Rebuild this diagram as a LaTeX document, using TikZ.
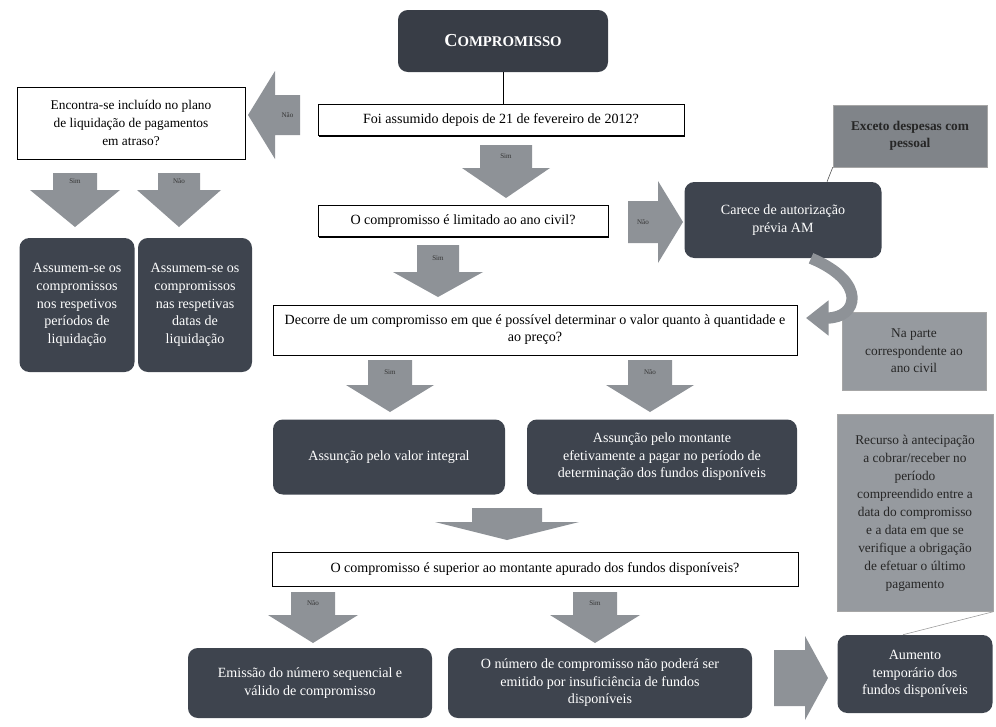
\documentclass[tikz,border=0pt]{standalone}
\usepackage{fontspec}
\setmainfont{Liberation Serif}
\usetikzlibrary{shadows,arrows.meta}

\definecolor{caixaescura}{RGB}{62,68,78}
\definecolor{setacinza}{RGB}{142,146,151}
\definecolor{notaescura}{RGB}{128,132,137}
\definecolor{notaclara}{RGB}{150,154,159}

\tikzset{
  sz/.style 2 args={minimum width=#1*0.025cm, minimum height=#2*0.025cm},
  pergunta/.style={draw=black, line width=0.6pt, fill=white, inner sep=2pt, align=center,
    drop shadow={fill=black, opacity=1, shadow xshift=0.9pt, shadow yshift=-0.9pt},
    font=\fontsize{10}{12}\selectfont},
  escura/.style={fill=caixaescura, rounded corners=7pt, text=white, align=center, inner sep=2pt,
    font=\fontsize{10}{12.5}\selectfont},
  nota/.style={fill=notaclara, draw=black!35, line width=0.3pt, text=black!85, align=center,
    inner sep=2pt, font=\fontsize{9.5}{12.5}\selectfont},
  rotulo/.style={font=\fontsize{5}{6}\selectfont, text=black!80, inner sep=0pt},
}

% seta larga para baixo: nome, x, topo, base da ponta, ponta, meia haste, meia ponta, rotulo
\newcommand{\setabaixo}[8]{%
  \fill[setacinza] (#2-#6,#3) -- (#2+#6,#3) -- (#2+#6,#4) -- (#2+#7,#4) -- (#2,#5)
    -- (#2-#7,#4) -- (#2-#6,#4) -- cycle;
  \node[rotulo] (#1) at (#2,{(#3+#4)/2}) {#8};
}
% seta larga na horizontal: nome, y, cauda, base da ponta, ponta, meia haste, meia ponta, rotulo
\newcommand{\setalado}[8]{%
  \fill[setacinza] (#3,#2-#6) -- (#4,#2-#6) -- (#4,#2-#7) -- (#5,#2) -- (#4,#2+#7)
    -- (#4,#2+#6) -- (#3,#2+#6) -- cycle;
  \node[rotulo] (#1) at ({(#3+#4)/2},#2) {#8};
}

\begin{document}
\begin{tikzpicture}[x=0.025cm,y=-0.025cm]
\useasboundingbox (0,0) rectangle (996,726);

% caixas principais
\node[escura, sz={210}{62}, fill=caixaescura!90!black] (comp) at (503,41)
  {\bfseries{\fontsize{13}{15}\selectfont C}{\fontsize{10.5}{12}\selectfont OMPROMISSO}};
\node[pergunta, sz={366}{31}] (q1) at (501,120) {Foi assumido depois de 21 de fevereiro de 2012?};
\node[pergunta, sz={228}{72}, font=\fontsize{9.5}{12.5}\selectfont] (l1) at (131,123)
  {Encontra-se incluído no plano\\ de liquidação de pagamentos\\ em atraso?};
\node[escura, sz={115}{134}] (b1) at (77,305)
  {Assumem-se os\\ compromissos\\ nos respetivos\\ períodos de\\ liquidação};
\node[escura, sz={114}{134}] (b2) at (195,305)
  {Assumem-se os\\ compromissos\\ nas respetivas\\ datas de\\ liquidação};
\node[pergunta, sz={290}{31}] (q2) at (463,221) {O compromisso é limitado ao ano civil?};
\node[escura, sz={197}{76}] (carece) at (783,220) {Carece de autorização\\ prévia AM};
\node[nota, sz={154}{62}, fill=notaescura, font=\bfseries\fontsize{9.5}{12}\selectfont] (exc) at (910,136)
  {Exceto despesas com\\ pessoal};
\node[pergunta, sz={524}{50}] (q3) at (535,330)
  {Decorre de um compromisso em que é possível determinar o valor quanto à quantidade e\\ ao preço?};
\node[nota, sz={144}{78}] (napa) at (914,351) {Na parte\\ correspondente ao\\ ano civil};
\node[escura, sz={232}{75}] (a1) at (389,457) {Assunção pelo valor integral};
\node[escura, sz={270}{75}] (a2) at (662,457)
  {Assunção pelo montante\\ efetivamente a pagar no período de\\ determinação dos fundos disponíveis};
\node[pergunta, sz={526}{34}] (q4) at (535,569)
  {O compromisso é superior ao montante apurado dos fundos disponíveis?};
\node[nota, sz={156}{197}, font=\fontsize{9.5}{12.8}\selectfont] (rec) at (915,513)
  {Recurso à antecipação\\ a cobrar/receber no\\ período\\ compreendido entre a\\ data do compromisso\\ e a data em que se\\ verifique a obrigação\\ de efetuar o último\\ pagamento};
\node[escura, sz={244}{70}] (e1) at (310,683) {Emissão do número sequencial e\\ válido de compromisso};
\node[escura, sz={304}{70}] (e2) at (600,683)
  {O número de compromisso não poderá ser\\ emitido por insuficiência de fundos\\ disponíveis};
\node[escura, sz={155}{78}] (aum) at (915,674) {Aumento\\ temporário dos\\ fundos disponíveis};

% ligacoes
\draw[line width=0.7pt] (comp.south) -- (comp.south |- q1.north);
\draw[black!70, line width=0.4pt] ([xshift=1.1cm]carece.north) -- (exc.south west);
\draw[black!40, line width=0.4pt] (rec.south east) -- ([xshift=-0.3cm]aum.north);

% setas largas
\setalado{nq1}{115}{300}{275}{248}{20}{44}{Não}
\setabaixo{sq1}{506}{145}{168}{198}{26}{44}{Sim}
\setabaixo{sl1}{75}{173}{190}{227}{22}{45}{Sim}
\setabaixo{nl1}{179}{173}{190}{227}{21}{42}{Não}
\setabaixo{sq2}{438}{245}{272}{297}{21}{45}{Sim}
\setalado{nq2}{222}{628}{658}{683}{21}{41}{Não}
\setabaixo{sq3}{390}{360}{385}{412}{22}{44}{Sim}
\setabaixo{nq3}{650}{360}{385}{412}{22}{44}{Não}
\setabaixo{larga}{507}{508}{522}{540}{35}{72}{}
\setabaixo{nq4}{313}{592}{615}{643}{22}{45}{Não}
\setabaixo{sq4}{595}{592}{615}{643}{22}{45}{Sim}
\setalado{fim}{678}{774}{805}{828}{28}{42}{}

% seta curva
\coordinate (curva) at (806,318);
\draw[setacinza, line width=8pt, -{Triangle[length=16pt,width=24pt]}]
  ([xshift=0.7cm]carece.south) .. controls (868,282) and (858,318) .. (curva);
\end{tikzpicture}
\end{document}
